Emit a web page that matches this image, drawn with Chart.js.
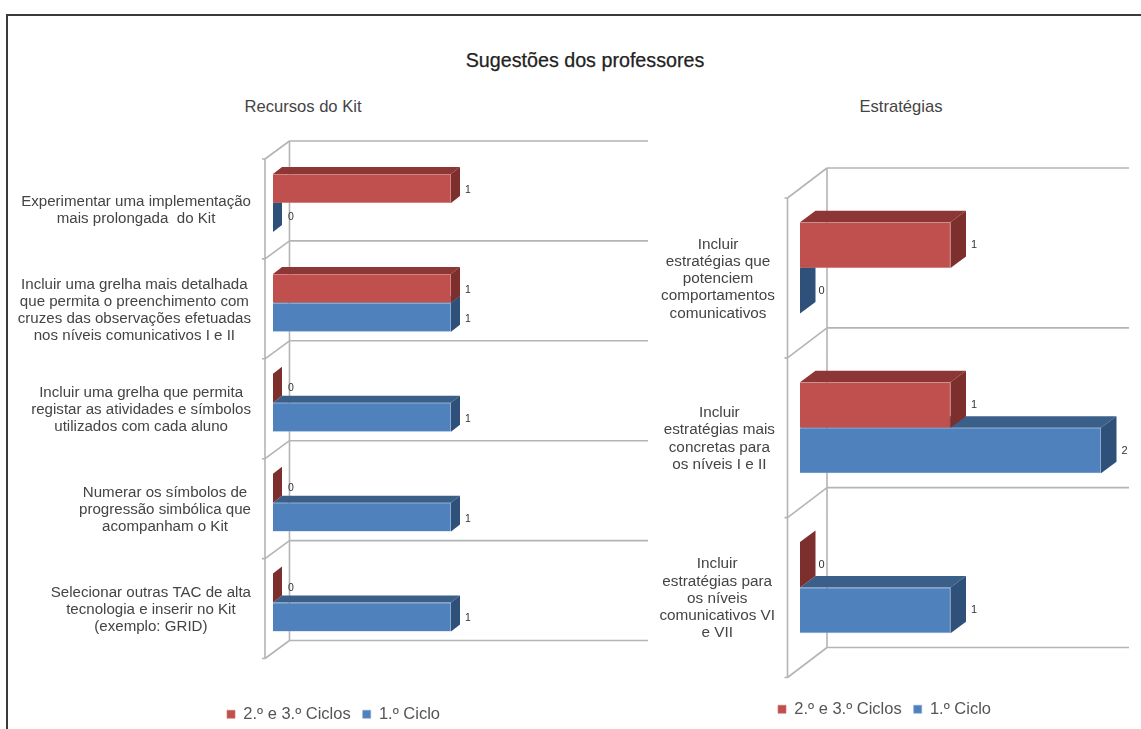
<!DOCTYPE html>
<html lang="pt">
<head>
<meta charset="utf-8">
<title>Sugestões dos professores</title>
<script src="https://cdn.jsdelivr.net/npm/chart.js@4/dist/chart.umd.min.js"></script>
<style>
html,body{margin:0;padding:0;background:#fff;width:1141px;height:729px;overflow:hidden}
#page{position:relative;width:1141px;height:729px;font-family:"Liberation Sans",Arial,sans-serif}
#frame{position:absolute;left:6px;top:14px;width:1140px;height:720px;border:2px solid #3a3a3a;box-sizing:border-box}
.t{position:absolute;white-space:nowrap;transform:translateX(-50%);line-height:1}
#main{left:585px;top:51px;font-size:19.7px;color:#222;-webkit-text-stroke:0.25px #222}
#sub1{left:303px;top:99px;font-size:16.6px;color:#444}
#sub2{left:901px;top:99px;font-size:16.6px;color:#444}
canvas{position:absolute}
#wrapA{position:absolute;left:0;top:0;width:667px;height:729px}
#wrapB{position:absolute;left:634px;top:0;width:501px;height:729px}
</style>
</head>
<body>
<div id="page">
<div id="frame"></div>
<div class="t" id="main">Sugestões dos professores</div>
<div class="t" id="sub1">Recursos do Kit</div>
<div class="t" id="sub2">Estratégias</div>
<div id="wrapA"><canvas id="chartA"></canvas></div>
<div id="wrapB"><canvas id="chartB"></canvas></div>
</div>
<script>
const seriesNames = ["2.º e 3.º Ciclos", "1.º Ciclo"];

const kitLabels = [
  ["Experimentar uma implementação", "mais prolongada  do Kit"],
  ["Incluir uma grelha mais detalhada", "que permita o preenchimento com", "cruzes das observações efetuadas", "nos níveis comunicativos I e II"],
  ["Incluir uma grelha que permita", "registar as atividades e símbolos", "utilizados com cada aluno"],
  ["Numerar os símbolos de", "progressão simbólica que", "acompanham o Kit"],
  ["Selecionar outras TAC de alta", "tecnologia e inserir no Kit", "(exemplo: GRID)"]
];
const kitRed  = [1, 1, 0, 0, 0];
const kitBlue = [0, 1, 1, 1, 1];

const estLabels = [
  ["Incluir", "estratégias que", "potenciem", "comportamentos", "comunicativos"],
  ["Incluir", "estratégias mais", "concretas para", "os níveis I e II"],
  ["Incluir", "estratégias para", "os níveis", "comunicativos VI", "e VII"]
];
const estRed  = [1, 1, 0];
const estBlue = [0, 2, 1];

const RED = {face:"#C0504D", top:"#8C3735", side:"#7C2F2D", edge:"#D0706C"};
const BLUE = {face:"#4F81BD", top:"#3A6089", side:"#2F5079", edge:"#7FA6D6"};

function poly(ctx, pts, fill){
  ctx.beginPath();
  pts.forEach((p,i)=> i ? ctx.lineTo(p[0],p[1]) : ctx.moveTo(p[0],p[1]));
  ctx.closePath();
  ctx.fillStyle = fill;
  ctx.fill();
}

const shape3d = {
  id: "shape3d",
  afterLayout(chart, args, o){
    const lg = chart.legend;
    lg.top = o.legendY;
    lg.bottom = o.legendY + lg.height;
    lg.left = 0;
    lg.right = chart.width;
  },
  beforeDatasetsDraw(chart, args, o){
    const ctx = chart.ctx, ya = chart.scales.y, L = chart.chartArea.left;
    const wx = L + o.wallDx, fx = L + o.frontDx;
    const n = chart.data.labels.length;
    const right = o.lineEnd;
    ctx.save();
    ctx.strokeStyle = "#B4B4B4";
    ctx.lineWidth = 1.6;
    // back wall, floor lines and the front axis, placed by the category scale
    const band = ya.getPixelForValue(1) - ya.getPixelForValue(0);
    const edge = i => ya.getPixelForValue(0) - band/2 + i*band;
    ctx.beginPath();
    ctx.moveTo(wx, edge(0)+o.backDy); ctx.lineTo(wx, edge(n)+o.backDy);
    ctx.moveTo(fx, edge(0)+o.frontDy); ctx.lineTo(fx, edge(n)+o.frontDy);
    for(let i=0;i<=n;i++){
      const by = edge(i)+o.backDy, fy = edge(i)+o.frontDy;
      ctx.moveTo(wx, by); ctx.lineTo(right, by);
      ctx.moveTo(wx, by); ctx.lineTo(fx, fy);
      ctx.moveTo(fx, fy); ctx.lineTo(fx-3, fy);
    }
    ctx.stroke();
    // category labels: block right-aligned, lines centred inside the block
    ctx.fillStyle = "#444";
    ctx.font = o.labelFont;
    ctx.textBaseline = "middle";
    ctx.textAlign = "center";
    chart.data.labels.forEach((lines,i)=>{
      const w = Math.max(...lines.map(s=>ctx.measureText(s).width));
      const cx = o.labelRight - w/2;
      const cy = ya.getPixelForValue(i) + o.labelDy;
      lines.forEach((s,j)=> ctx.fillText(s, cx, cy + (j-(lines.length-1)/2)*o.lineH));
    });
    ctx.restore();
  },
  afterDatasetDraw(chart, args, o){
    const ctx = chart.ctx, i = args.index;
    const meta = chart.getDatasetMeta(i);
    const pal = i === 0 ? RED : BLUE;
    const dx = o.dx, dy = o.dy;
    ctx.save();
    meta.data.forEach((bar,k)=>{
      const p = bar.getProps(["x","y","base","height"], true);
      const x0 = p.base, x1 = p.x, t = p.y - p.height/2, b = p.y + p.height/2;
      if (x1 > x0 + 0.5) {
        poly(ctx, [[x0,t],[x0+dx,t-dy],[x1+dx,t-dy],[x1,t]], pal.top);
      }
      poly(ctx, [[x1,t],[x1+dx,t-dy],[x1+dx,b-dy],[x1,b]], pal.side);
      const v = chart.data.datasets[i].data[k];
      ctx.fillStyle = "#333";
      ctx.font = o.valueFont;
      ctx.textAlign = "left";
      ctx.textBaseline = "middle";
      ctx.fillText(String(v), x1 + dx + (v === 0 ? o.zeroGap : o.valGap), p.y + (v === 0 ? o.zeroDy : o.valDy));
    });
    ctx.restore();
  }
};

function build(id, labels, red, blue, pad, opt){
  return new Chart(document.getElementById(id), {
    type: "bar",
    plugins: [shape3d],
    data: {
      labels: labels,
      datasets: [
        {label: seriesNames[0], data: red, backgroundColor: RED.face, borderColor: RED.edge, borderWidth: 0.6},
        {label: seriesNames[1], data: blue, backgroundColor: BLUE.face, borderColor: BLUE.edge, borderWidth: 0.6}
      ]
    },
    options: {
      indexAxis: "y",
      responsive: true,
      maintainAspectRatio: false,
      animation: false,
      layout: {padding: pad},
      scales: {
        x: {display: false, min: 0, max: 2},
        y: {display: false}
      },
      datasets: {bar: {categoryPercentage: opt.catPct, barPercentage: 1}},
      plugins: {
        title: {display: false},
        tooltip: {enabled: false},
        legend: {
          display: true,
          position: "bottom",
          labels: {boxWidth: 8, boxHeight: 8, padding: 12, color: "#555",
                   font: {family: '"Liberation Sans",Arial,sans-serif', size: 16.5}}
        },
        shape3d: opt
      }
    }
  });
}

build("chartA", kitLabels, kitRed, kitBlue,
  {left: 273, right: 38, top: 153, bottom: 38},
  {catPct: 0.58, dx: 9, dy: 7, wallDx: 16.5, frontDx: -8, backDy: -12, frontDy: 6,
   lineEnd: 648, labelRight: 251, labelDy: 7, lineH: 17,
   labelFont: '15.1px "Liberation Sans",Arial,sans-serif',
   valueFont: '10.5px "Liberation Sans",Arial,sans-serif',
   valGap: 5, zeroGap: 6, valDy: 1.5, zeroDy: 0, legendY: 694});

build("chartB", estLabels, estRed, estBlue,
  {left: 166, right: 34, top: 188, bottom: 23},
  {catPct: 0.57, dx: 15.5, dy: 11.5, wallDx: 27, frontDx: -12.5, backDy: -20, frontDy: 10,
   lineEnd: 495, labelRight: 141, labelDy: 11, lineH: 17.2,
   labelFont: '15.3px "Liberation Sans",Arial,sans-serif',
   valueFont: '11px "Liberation Sans",Arial,sans-serif',
   valGap: 5, zeroGap: 3, valDy: 0, zeroDy: 0, legendY: 689});
</script>
</body>
</html>
